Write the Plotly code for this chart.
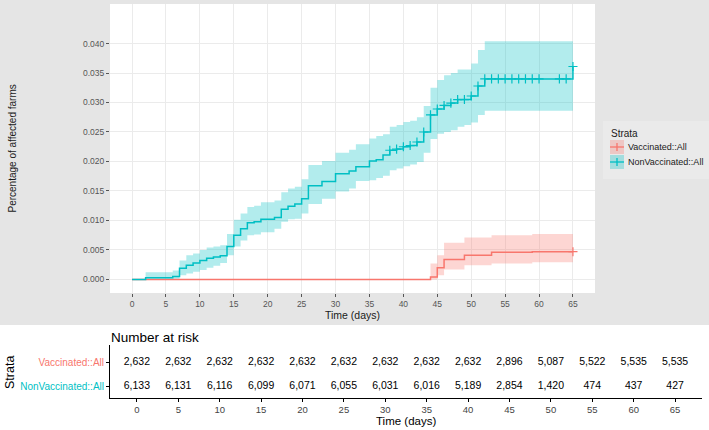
import plotly.graph_objects as go

# ---------------- data ----------------
nv_time = [0, 2, 6, 7, 8, 9, 10, 11, 12, 13, 14, 15, 16, 17, 18, 19, 21, 22, 23, 24, 25, 26, 28, 30, 32, 33,
           35, 36, 37, 38, 39, 40, 41, 42, 43, 44, 45, 46, 47, 48, 49, 50, 51, 52, 65]
nv_est = [0, 0.0003, 0.0005, 0.0019, 0.0024, 0.0028, 0.0032, 0.0036, 0.0038, 0.0040, 0.0056, 0.0075, 0.0086,
          0.0096, 0.0098, 0.0102, 0.0105, 0.0119, 0.0124, 0.0128, 0.0137, 0.0159, 0.0166, 0.0179, 0.0184, 0.0191,
          0.0201, 0.0203, 0.0211, 0.0219, 0.0221, 0.0225, 0.0227, 0.0233, 0.0250, 0.0279, 0.0289, 0.0295, 0.0299,
          0.0305, 0.0305, 0.0311, 0.0328, 0.0340, 0.0361]
nv_upper = [0, 0.0012, 0.0015, 0.0032, 0.0041, 0.0044, 0.0050, 0.0054, 0.0056, 0.0058, 0.0077, 0.0101, 0.0112,
            0.0123, 0.0125, 0.0131, 0.0134, 0.0148, 0.0154, 0.0157, 0.0170, 0.0194, 0.0201, 0.0215, 0.0220, 0.0229,
            0.0239, 0.0243, 0.0246, 0.0259, 0.0262, 0.0267, 0.0269, 0.0275, 0.0294, 0.0325, 0.0338, 0.0346, 0.0350,
            0.0356, 0.0356, 0.0366, 0.0389, 0.0404, 0.0404]
nv_lower = [0, 0.0001, 0.0001, 0.0007, 0.0010, 0.0013, 0.0016, 0.0020, 0.0023, 0.0028, 0.0041, 0.0056, 0.0066,
            0.0075, 0.0076, 0.0080, 0.0086, 0.0098, 0.0102, 0.0103, 0.0112, 0.0128, 0.0137, 0.0149, 0.0154, 0.0167,
            0.0168, 0.0172, 0.0176, 0.0185, 0.0188, 0.0192, 0.0195, 0.0199, 0.0215, 0.0238, 0.0247, 0.0250, 0.0253,
            0.0259, 0.0262, 0.0266, 0.0279, 0.0286, 0.0286]
nv_censor = [38, 39, 40, 41, 42, 43, 44, 45, 46, 47, 48, 49, 50, 51, 52, 53, 54, 55, 56, 57, 58, 59, 60, 63, 64, 65]

v_time = [0, 44, 45, 46, 49, 53, 59, 65]
v_est = [0, 0.0004, 0.0020, 0.0034, 0.0041, 0.0046, 0.0047, 0.0047]
v_upper = [0, 0.0027, 0.0041, 0.0062, 0.0071, 0.0075, 0.0077, 0.0077]
v_lower = [0, 0.0, 0.0007, 0.0017, 0.0024, 0.0027, 0.0029, 0.0029]
v_censor = [65]

risk_times = [0, 5, 10, 15, 20, 25, 30, 35, 40, 45, 50, 55, 60, 65]
risk_vacc = ["2,632", "2,632", "2,632", "2,632", "2,632", "2,632", "2,632", "2,632", "2,632", "2,896",
             "5,087", "5,522", "5,535", "5,535"]
risk_nonvacc = ["6,133", "6,131", "6,116", "6,099", "6,071", "6,055", "6,031", "6,016", "5,189", "2,854",
                "1,420", "474", "437", "427"]

strata = ["Vaccinated::All", "NonVaccinated::All"]
x_ticks = [0, 5, 10, 15, 20, 25, 30, 35, 40, 45, 50, 55, 60, 65]
y_ticks = [0.000, 0.005, 0.010, 0.015, 0.020, 0.025, 0.030, 0.035, 0.040]

RED = "#F8766D"
TEAL = "#00BFC4"
RED_BAND = "rgba(248,118,109,0.3)"
TEAL_BAND = "rgba(0,191,196,0.3)"
FONT = "Liberation Sans, Arial, sans-serif"

W, H = 709, 430
def px(x):
    return x / W
def py(y):
    return 1 - y / H

def step_value(times, vals, t):
    v = vals[0]
    for tt, vv in zip(times, vals):
        if tt <= t:
            v = vv
    return v

fig = go.Figure()

# bands
for t, lo, up, band in [(v_time, v_lower, v_upper, RED_BAND), (nv_time, nv_lower, nv_upper, TEAL_BAND)]:
    fig.add_trace(go.Scatter(x=t, y=lo, mode="lines", line=dict(width=0, shape="hv"),
                             showlegend=False, hoverinfo="skip", xaxis="x", yaxis="y"))
    fig.add_trace(go.Scatter(x=t, y=up, mode="lines", line=dict(width=0, shape="hv"),
                             fill="tonexty", fillcolor=band, showlegend=False, hoverinfo="skip",
                             xaxis="x", yaxis="y"))

# lines + censor marks
for t, est, cens, col in [(v_time, v_est, v_censor, RED), (nv_time, nv_est, nv_censor, TEAL)]:
    fig.add_trace(go.Scatter(x=t, y=est, mode="lines", line=dict(color=col, width=1.5, shape="hv"),
                             showlegend=False, xaxis="x", yaxis="y"))
    fig.add_trace(go.Scatter(x=cens, y=[step_value(t, est, c) for c in cens], mode="markers",
                             marker=dict(symbol="cross-thin", size=6.5, line=dict(color=col, width=1.2)),
                             showlegend=False, xaxis="x", yaxis="y"))

# risk table numbers
fig.add_trace(go.Scatter(x=risk_times, y=[2] * len(risk_times), mode="text", text=risk_vacc,
                         textfont=dict(size=10.5, color="black", family=FONT), textposition="middle center",
                         showlegend=False, xaxis="x2", yaxis="y2"))
fig.add_trace(go.Scatter(x=risk_times, y=[1] * len(risk_times), mode="text", text=risk_nonvacc,
                         textfont=dict(size=10.5, color="black", family=FONT), textposition="middle center",
                         showlegend=False, xaxis="x2", yaxis="y2"))

shapes = [
    dict(type="rect", xref="paper", yref="paper", x0=0, x1=1, y0=py(325), y1=1,
         fillcolor="#E5E5E5", line=dict(width=0), layer="below"),
    dict(type="rect", xref="paper", yref="paper", x0=px(603), x1=1, y0=py(179), y1=py(121),
         fillcolor="#EAEAEA", line=dict(width=0), layer="below"),
    dict(type="rect", xref="paper", yref="paper", x0=px(110), x1=px(595), y0=py(293), y1=py(4),
         fillcolor="white", line=dict(width=0), layer="below"),
]
# legend keys
for i, (col, band) in enumerate([(RED, RED_BAND), (TEAL, TEAL_BAND)]):
    top = 140 + 15 * i
    shapes.append(dict(type="rect", xref="paper", yref="paper", x0=px(610), x1=px(624),
                       y0=py(top + 14), y1=py(top), fillcolor=band, line=dict(width=0)))
    shapes.append(dict(type="line", xref="paper", yref="paper", x0=px(610), x1=px(624),
                       y0=py(top + 7), y1=py(top + 7), line=dict(color=col, width=1.3)))
    shapes.append(dict(type="line", xref="paper", yref="paper", x0=px(617), x1=px(617),
                       y0=py(top + 11), y1=py(top + 3), line=dict(color=col, width=1.3)))

def ann(text, x, y, size, color="#1A1A1A", xanchor="center", angle=0):
    return dict(text=text, x=px(x), y=py(y), xref="paper", yref="paper", xanchor=xanchor,
                yanchor="middle", textangle=angle, showarrow=False,
                font=dict(size=size, color=color, family=FONT))

annotations = [
    ann("Percentage of affected farms", 12, 148.5, 10, angle=-90),
    ann("Time (days)", 352.5, 315, 10.5),
    ann("Strata", 609, 133, 10, xanchor="left"),
    ann("Number at risk", 109, 337, 13.5, color="black", xanchor="left"),
    ann("Strata", 10, 373, 12.5, color="black", angle=-90),
    ann("Time (days)", 406, 421, 11.5, color="black"),
]
for i, name in enumerate(strata):
    annotations.append(ann(name, 626, 147 + 15 * i, 9, xanchor="left"))

row_labels = ['<span style="color:%s">%s</span>' % (c, s) for s, c in zip(strata, [RED, TEAL])]

fig.update_layout(
    width=W, height=H, margin=dict(l=0, r=0, t=0, b=0),
    paper_bgcolor="white", plot_bgcolor="white",
    font=dict(family=FONT),
    showlegend=False,
    shapes=shapes, annotations=annotations,
    xaxis=dict(domain=[px(110), px(595)], anchor="y", range=[-3.25, 68.25], tickvals=x_ticks,
               showgrid=True, gridcolor="#EBEBEB", gridwidth=1, zeroline=False, showline=False,
               ticks="outside", ticklen=3, tickcolor="#555", tickwidth=1,
               tickfont=dict(size=8.5, color="#555", family=FONT)),
    yaxis=dict(domain=[py(293), py(4)], anchor="x", range=[-0.0023, 0.0467], tickvals=y_ticks,
               tickformat=".3f", showgrid=True, gridcolor="#EBEBEB", gridwidth=1, zeroline=False,
               showline=False, ticks="outside", ticklen=3, tickcolor="#555", tickwidth=1,
               tickfont=dict(size=8.5, color="#555", family=FONT)),
    xaxis2=dict(domain=[px(110), px(702)], anchor="y2", range=[-3.25, 68.25], tickvals=x_ticks,
                showgrid=False, zeroline=False, showline=True, linecolor="black", linewidth=1,
                ticks="outside", ticklen=3, tickcolor="black", tickwidth=1,
                tickfont=dict(size=9.5, color="#444", family=FONT)),
    yaxis2=dict(domain=[py(398), py(345)], anchor="x2", range=[0.5, 2.71], tickvals=[2, 1],
                ticktext=row_labels, showgrid=False, zeroline=False, showline=True, linecolor="black",
                linewidth=1, ticks="outside", ticklen=3, tickcolor="black", tickwidth=1,
                tickfont=dict(size=10, family=FONT)),
)

fig.write_html("out.html", config={"displayModeBar": False},
               post_script="document.body.style.margin='0';document.body.style.overflow='hidden';")
